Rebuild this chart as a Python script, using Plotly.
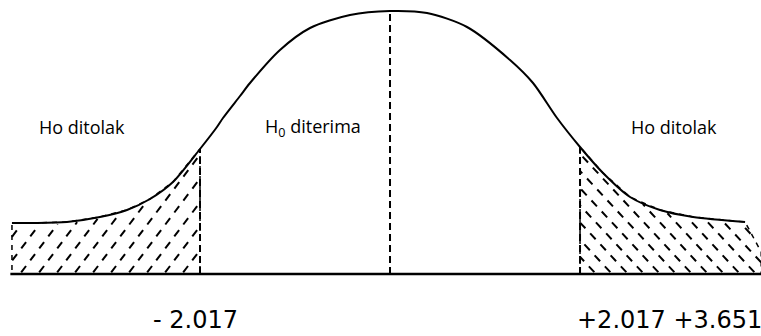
import numpy as np
import plotly.graph_objects as go

# t-distribution style acceptance / rejection diagram
curve_t = [-4.013, -3.790, -3.429, -3.079, -2.792, -2.548, -2.304, -2.017, -1.837,
           -1.773, -1.592, -1.486, -1.168, -0.849, -0.425, 0.0, 0.393, 0.817, 1.274,
           1.518, 1.773, 2.017, 2.261, 2.548, 2.866, 3.217, 3.769]
curve_h = [51, 51, 52, 57, 64, 75, 92, 125, 147,
           156, 178, 191, 224, 246, 259, 263, 261, 247, 214,
           191, 156, 127, 101, 77, 64, 57, 52]

t_crit_left = -2.017
t_crit_right = 2.017
t_center = 0.0
axis_left, axis_right = -4.03, 3.94

region_labels = ["Ho ditolak", "H<sub>0</sub> diterima", "Ho ditolak"]
region_label_t = [-3.27, -0.817, 3.01]
label_h = 147
tick_labels = ["- 2.017", "+2.017 +3.651"]

W, H = 761, 336
xrange_ = [-4.140, 3.938]
yrange_ = [-62, 274]
sx = W / (xrange_[1] - xrange_[0])   # px per t unit
sy = H / (yrange_[1] - yrange_[0])   # px per h unit

ct = np.array(curve_t)
ch = np.array(curve_h)

# region polygons
mask_r = ct >= t_crit_right
xr_poly = [t_crit_right] + list(ct[mask_r]) + [axis_right, axis_right, t_crit_right]
yr_poly = [0] + list(ch[mask_r]) + [22, 0, 0]
mask_l = ct <= t_crit_left
xl_poly = list(ct[mask_l]) + [t_crit_left, ct[0], ct[0]]
yl_poly = list(ch[mask_l]) + [0, 0, ch[0]]


def top_left(X):
    return np.interp(X / sx, ct, ch) * sy


def top_right(X):
    t = X / sx
    return np.interp(t, list(xr_poly[1:-2]), list(yr_poly[1:-2])) * sy


def hatch(ta, tb, topfn, angle_deg, spacing, direction):
    """Clipped diagonal hatch lines inside region ta..tb under topfn."""
    xa, xb = ta * sx, tb * sx
    th = np.radians(angle_deg)
    dx, dy = np.cos(th) * direction, np.sin(th)
    ymax = 270
    run = ymax / np.tan(th)
    xs, ys = [], []
    if direction > 0:
        starts = np.arange(xb, xa - run - spacing, -spacing)
    else:
        starts = np.arange(xa, xb + run + spacing, spacing)
    s = np.arange(0, ymax / dy + 1, 0.5)
    for x0 in starts:
        X = x0 + s * dx
        Y = s * dy
        inside = (X >= xa) & (X <= xb) & (Y <= topfn(X) - 1.5) & (Y >= 1.5)
        if not inside.any():
            continue
        idx = np.where(inside)[0]
        splits = np.split(idx, np.where(np.diff(idx) > 1)[0] + 1)
        for seg in splits:
            if len(seg) < 3:
                continue
            xs += [X[seg[0]] / sx, X[seg[-1]] / sx, None]
            ys += [Y[seg[0]] / sy, Y[seg[-1]] / sy, None]
    return xs, ys


fig = go.Figure()

# region outlines (dashed)
fig.add_trace(go.Scatter(x=xl_poly, y=yl_poly, mode="lines",
                         line=dict(color="black", width=1.5, dash="5px,5px"), hoverinfo="skip"))
fig.add_trace(go.Scatter(x=xr_poly, y=yr_poly, mode="lines",
                         line=dict(color="black", width=1.5, dash="5px,5px"), hoverinfo="skip"))

# hatching
hx, hy = hatch(ct[0], t_crit_left, top_left, 53, 18, +1)
fig.add_trace(go.Scatter(x=hx, y=hy, mode="lines", connectgaps=False,
                         line=dict(color="black", width=2, dash="8px,7px"), hoverinfo="skip"))
hx, hy = hatch(t_crit_right, axis_right, top_right, 47, 16, -1)
fig.add_trace(go.Scatter(x=hx, y=hy, mode="lines", connectgaps=False,
                         line=dict(color="black", width=2, dash="8px,7px"), hoverinfo="skip"))

# baseline
fig.add_trace(go.Scatter(x=[axis_left, axis_right], y=[0, 0], mode="lines",
                         line=dict(color="black", width=2.5), hoverinfo="skip"))

# vertical dashed lines
for tc in [t_crit_left, t_center, t_crit_right]:
    top = float(np.interp(tc, ct, ch))
    fig.add_trace(go.Scatter(x=[tc, tc], y=[0, top], mode="lines",
                             line=dict(color="black", width=2, dash="7px,4px"),
                             hoverinfo="skip"))

# curve
fig.add_trace(go.Scatter(x=curve_t, y=curve_h, mode="lines",
                         line=dict(color="black", width=2, shape="spline", smoothing=0.8),
                         hoverinfo="skip"))

for txt, xt in zip(region_labels, region_label_t):
    fig.add_annotation(x=xt, y=label_h, text=txt, showarrow=False,
                       font=dict(family="Open Sans", size=18, color="black"),
                       xanchor="center", yanchor="middle")

fig.add_annotation(x=-2.07, y=-46, text=tick_labels[0], showarrow=False,
                   font=dict(family="DejaVu Sans", size=24, color="black"),
                   xanchor="center", yanchor="middle")
fig.add_annotation(x=1.964, y=-46, text=tick_labels[1], showarrow=False,
                   font=dict(family="DejaVu Sans", size=24, color="black"),
                   xanchor="left", yanchor="middle")

fig.update_layout(width=W, height=H, margin=dict(l=0, r=0, t=0, b=0),
                  paper_bgcolor="white", plot_bgcolor="white", showlegend=False,
                  hovermode=False,
                  xaxis=dict(visible=False, range=xrange_, fixedrange=True),
                  yaxis=dict(visible=False, range=yrange_, fixedrange=True))

fig.write_html("out.html", config={"displayModeBar": False, "staticPlot": True},
               post_script="document.body.style.margin='0';document.body.style.padding='0';"
                           "document.body.style.overflow='hidden';")
